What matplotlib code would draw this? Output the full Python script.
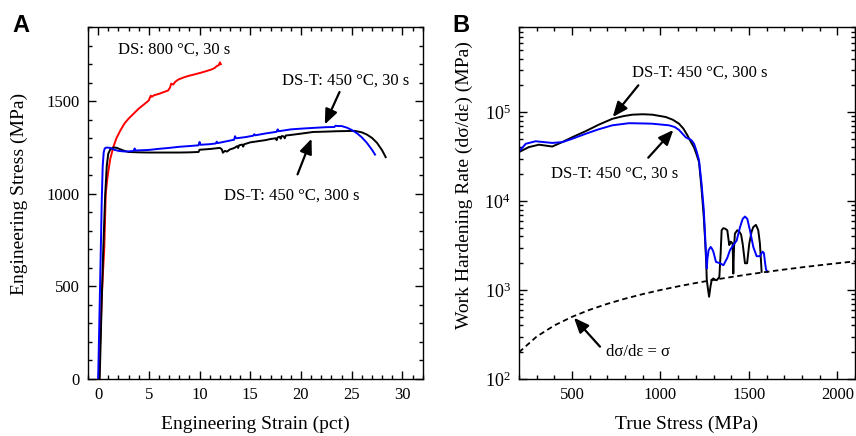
import matplotlib
matplotlib.use("Agg")
import matplotlib.pyplot as plt
from matplotlib.ticker import MultipleLocator, LogLocator

plt.rcParams['font.family'] = ['Liberation Serif', 'DejaVu Serif']
plt.rcParams['mathtext.fontset'] = 'custom'
plt.rcParams['mathtext.rm'] = 'Liberation Serif'
plt.rcParams['mathtext.it'] = 'Liberation Serif:italic'
plt.rcParams['mathtext.bf'] = 'Liberation Serif:bold'

# ---------------- Panel A data: engineering stress-strain ----------------
red_strain = [0.1, 0.2, 0.35, 0.5, 0.6, 0.75, 0.9, 1.0, 1.2, 1.5, 1.8, 2.2, 2.6, 3.0, 3.5, 4.0, 4.5,
              4.9, 5.0, 5.1, 5.2, 5.3, 5.5, 6.0, 6.5, 6.9, 7.1, 7.2, 7.4, 7.6, 7.9, 8.5, 9.0, 9.5,
              10.2, 10.8, 11.2, 11.5, 11.7, 11.9, 12.0, 12.1]
red_stress = [0, 200, 430, 600, 700, 1000, 1080, 1120, 1190, 1253, 1300, 1343, 1380, 1406, 1433,
              1460, 1482, 1500, 1505, 1520, 1530, 1524, 1532, 1540, 1550, 1558, 1575, 1595, 1590,
              1605, 1617, 1630, 1638, 1645, 1655, 1665, 1672, 1680, 1690, 1695, 1710, 1700]

blue_strain = [0.0, 0.1, 0.2, 0.26, 0.35, 0.45, 0.55, 0.65, 0.8, 1.2, 1.6, 2.0, 2.5, 3.0, 3.5, 3.6,
               3.7, 5.0, 6.0, 7.0, 8.0, 9.0, 9.9, 10.0, 10.1, 11.0, 11.6, 11.7, 11.8, 12.5, 13.4,
               13.5, 13.6, 14.5, 15.3, 15.4, 15.5, 16.5, 17.6, 17.7, 17.8, 19.0, 20.0, 21.2, 22.5,
               23.3, 23.4, 23.6, 24.0, 24.5, 25.0, 25.5, 26.0, 26.5, 27.0, 27.3]
blue_stress = [0, 260, 530, 694, 950, 1150, 1225, 1245, 1250, 1248, 1238, 1232, 1229, 1229, 1232,
               1245, 1234, 1237, 1243, 1248, 1254, 1258, 1262, 1280, 1265, 1268, 1272, 1282, 1274,
               1282, 1292, 1311, 1300, 1306, 1314, 1322, 1316, 1326, 1335, 1348, 1338, 1348, 1352,
               1356, 1360, 1361, 1368, 1366, 1366, 1358, 1345, 1328, 1305, 1275, 1238, 1212]

black_strain = [0.15, 0.25, 0.35, 0.5, 0.6, 0.7, 0.85, 1.0, 1.2, 1.5, 1.8, 2.2, 2.7, 3.0, 4.0, 5.0,
                6.0, 7.0, 8.0, 9.0, 9.9, 10.0, 10.5, 11.0, 11.5, 12.0, 12.2, 12.3, 12.5, 12.7, 13.0,
                13.3, 13.5, 13.7, 13.8, 13.9, 14.2, 14.3, 14.4, 14.6, 15.0, 15.5, 16.0, 16.5, 17.0,
                17.5, 17.6, 17.7, 17.9, 18.0, 18.1, 18.3, 18.4, 18.5, 19.0, 20.0, 21.2, 22.5, 23.5,
                24.5, 25.3, 26.0, 26.5, 27.0, 27.5, 28.0, 28.35]
black_stress = [0, 200, 420, 694, 850, 1000, 1150, 1217, 1240, 1250, 1249, 1240, 1230, 1226, 1224,
                1223, 1223, 1223, 1223, 1224, 1226, 1238, 1240, 1242, 1245, 1248, 1240, 1222, 1232,
                1228, 1240, 1245, 1250, 1258, 1248, 1262, 1266, 1255, 1268, 1271, 1278, 1282, 1286,
                1290, 1296, 1300, 1290, 1305, 1308, 1298, 1312, 1310, 1300, 1315, 1318, 1325, 1334,
                1336, 1338, 1339, 1340, 1332, 1320, 1302, 1275, 1235, 1198]

# ---------------- Panel B data: work hardening rate ----------------
b_black_stress = [200, 256, 313, 350, 388, 445, 500, 577, 650, 728, 790, 841, 900, 954, 1030, 1070,
                  1105, 1130, 1152, 1170, 1190, 1205, 1218, 1232, 1245, 1252, 1258, 1262, 1268,
                  1275, 1283, 1290, 1299, 1308, 1318, 1333, 1340, 1346, 1355, 1365, 1378, 1389,
                  1397, 1404, 1408, 1412, 1416, 1421, 1434, 1447, 1456, 1465, 1478, 1490, 1502,
                  1515, 1525, 1540, 1553, 1562, 1567, 1572]
b_black_rate = [35.5e3, 40.4e3, 43e3, 42e3, 41e3, 46e3, 52e3, 61e3, 72e3, 84e3, 90e3, 93.5e3,
                94.5e3, 93.5e3, 88e3, 82e3, 74e3, 65e3, 55e3, 47e3, 40e3, 33e3, 27.5e3, 14e3,
                6.6e3, 3.8e3, 2.2e3, 1.3e3, 1.05e3, 840, 1.1e3, 1.3e3, 1.35e3, 1.3e3, 1.29e3,
                1.4e3, 2.5e3, 4.7e3, 4.95e3, 4.9e3, 4.7e3, 3.2e3, 3.5e3, 3.4e3, 3.3e3, 1.53e3,
                3.0e3, 4.3e3, 4.7e3, 4.5e3, 4.2e3, 3.3e3, 2.0e3, 2.0e3, 3.3e3, 4.5e3, 5.1e3,
                5.4e3, 4.7e3, 3.4e3, 2.4e3, 1.6e3]

b_blue_stress = [200, 238, 294, 340, 388, 446, 500, 577, 650, 728, 822, 900, 954, 1048, 1080, 1105,
                 1125, 1143, 1160, 1171, 1180, 1190, 1205, 1218, 1232, 1245, 1255, 1262, 1265,
                 1272, 1284, 1292, 1299, 1314, 1337, 1356, 1378, 1393, 1412, 1431, 1450, 1465,
                 1478, 1491, 1506, 1525, 1544, 1563, 1572, 1578, 1585, 1592, 1597, 1605]
b_blue_rate = [36e3, 44e3, 47e3, 46e3, 45e3, 46e3, 50e3, 57e3, 64e3, 71e3, 75e3, 74.5e3, 74e3,
               71e3, 68e3, 63e3, 57e3, 52e3, 50e3, 49e3, 47e3, 44e3, 36e3, 28.7e3, 16e3, 8e3,
               3.2e3, 1.75e3, 2.2e3, 2.8e3, 3.05e3, 2.9e3, 2.7e3, 2.07e3, 2.0e3, 1.9e3, 2.3e3,
               2.8e3, 3.2e3, 3.6e3, 5.1e3, 6.3e3, 6.7e3, 6.3e3, 4.7e3, 3.05e3, 2.4e3, 2.4e3,
               2.6e3, 2.7e3, 2.6e3, 2.0e3, 1.7e3, 1.6e3]

# Considere criterion line d(sigma)/d(eps) = sigma
considere_stress = [200, 300, 400, 500, 600, 700, 800, 900, 1000, 1100, 1200, 1300, 1400, 1500,
                    1600, 1700, 1800, 1900, 2000, 2100]
considere_rate = considere_stress

fig = plt.figure(figsize=(8.56, 4.36), dpi=100)
axA = fig.add_axes([0.1028, 0.1307, 0.391, 0.807])
axB = fig.add_axes([0.6063, 0.1307, 0.3925, 0.807])

def style(ax):
    for s in ax.spines.values():
        s.set_linewidth(1.0)
    ax.tick_params(which='both', direction='in', top=True, right=True, width=1.0,
                   labelsize=12)
    ax.tick_params(which='major', length=5.5, pad=6)
    ax.tick_params(which='minor', length=3)

arrow_kw = dict(arrowstyle='-|>,head_length=0.6,head_width=0.25', color='black', lw=1.6,
                mutation_scale=15, shrinkA=0, shrinkB=0)

# ---- Panel A ----
axA.plot(red_strain, red_stress, color='#ff0000', lw=1.4)
axA.plot(black_strain, black_stress, color='black', lw=1.4)
axA.plot(blue_strain, blue_stress, color='#0000ff', lw=1.4)
axA.set_xlim(-1, 32)
axA.set_ylim(0, 1900)
axA.xaxis.set_major_locator(MultipleLocator(5))
axA.xaxis.set_minor_locator(MultipleLocator(1))
axA.yaxis.set_major_locator(MultipleLocator(500))
axA.yaxis.set_minor_locator(MultipleLocator(100))
style(axA)
axA.set_xlabel('Engineering Strain (pct)', fontsize=14)
axA.set_ylabel('Engineering Stress (MPa)', fontsize=14)
axA.xaxis.set_label_coords(0.5, -0.105)
axA.yaxis.set_label_coords(-0.179, 0.525)

axA.text(2.0, 1780, 'DS: 800 °C, 30 s', fontsize=12, ha='left', va='center')
axA.text(18.1, 1613, 'DS-T: 450 °C, 30 s', fontsize=12, ha='left', va='center')
axA.text(12.4, 991, 'DS-T: 450 °C, 300 s', fontsize=12, ha='left', va='center')
axA.annotate('', xy=(22.35, 1375), xytext=(23.8, 1550), arrowprops=arrow_kw)
axA.annotate('', xy=(21.04, 1298), xytext=(19.66, 1105), arrowprops=arrow_kw)

# ---- Panel B ----
axB.plot(b_black_stress, b_black_rate, color='black', lw=1.4)
axB.plot(b_blue_stress, b_blue_rate, color='#0000ff', lw=1.4)
axB.plot(considere_stress, considere_rate, color='black', lw=1.3, linestyle=(0, (3, 2)))
axB.set_yscale('log')
axB.set_xlim(200, 2100)
axB.set_ylim(100, 9e5)
axB.xaxis.set_major_locator(MultipleLocator(500))
axB.xaxis.set_minor_locator(MultipleLocator(100))
axB.yaxis.set_major_locator(LogLocator(base=10, numticks=10))
axB.yaxis.set_minor_locator(LogLocator(base=10, subs=range(2, 10), numticks=20))
style(axB)
axB.tick_params(axis='y', labelsize=13)
axB.set_xlabel('True Stress (MPa)', fontsize=14)
axB.set_ylabel('Work Hardening Rate (dσ/dε) (MPa)', fontsize=14)
axB.xaxis.set_label_coords(0.5, -0.105)
axB.yaxis.set_label_coords(-0.137, 0.551)

axB.text(837, 2.81e5, 'DS-T: 450 °C, 300 s', fontsize=12, ha='left', va='center')
axB.text(379, 2.04e4, 'DS-T: 450 °C, 30 s', fontsize=12, ha='left', va='center')
axB.text(692, 202, 'dσ/dε = σ', fontsize=12, ha='left', va='center')
axB.annotate('', xy=(730, 8.8e4), xytext=(875, 2.0e5), arrowprops=arrow_kw)
axB.annotate('', xy=(1073, 6.3e4), xytext=(931, 3.07e4), arrowprops=arrow_kw)
axB.annotate('', xy=(511, 488), xytext=(658, 231), arrowprops=arrow_kw)

fig.text(0.0148, 0.927, 'A', fontsize=17, fontweight='bold', family='Liberation Sans',
         ha='left', va='baseline')
fig.text(0.529, 0.927, 'B', fontsize=17, fontweight='bold', family='Liberation Sans',
         ha='left', va='baseline')

fig.savefig('out.png', dpi=100)
